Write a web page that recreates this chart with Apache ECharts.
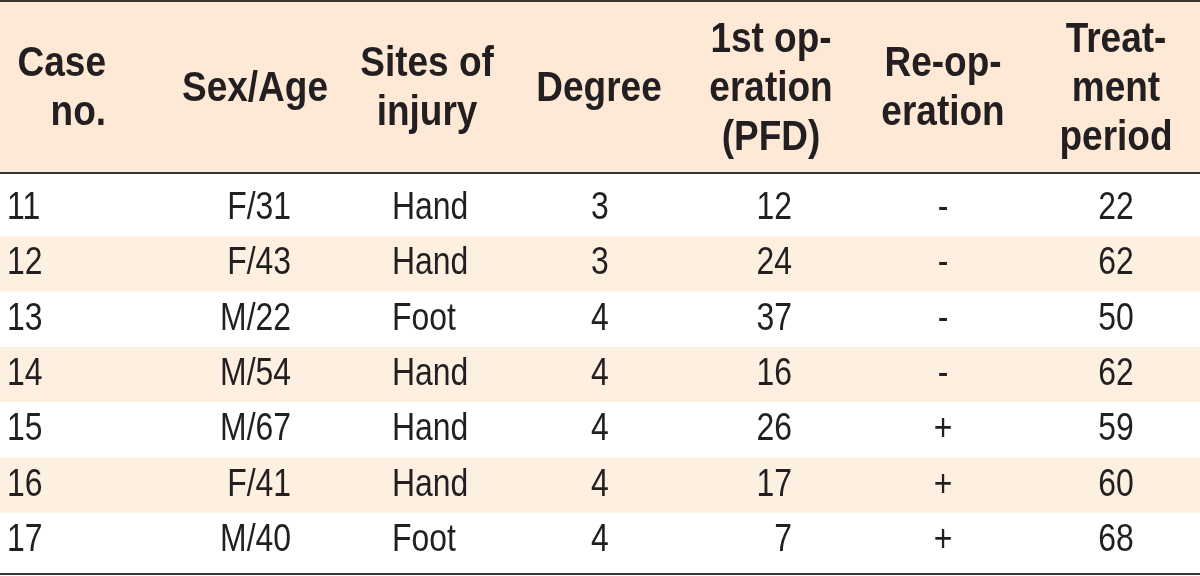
<!DOCTYPE html>
<html>
<head>
<meta charset="utf-8">
<script src="https://cdn.jsdelivr.net/npm/echarts@6/dist/echarts.min.js"></script>
<style>
  html, body { margin: 0; padding: 0; background: #fff; }
  #main { width: 1200px; height: 576px; }
</style>
</head>
<body>
<div id="main"></div>
<script>
// ---- data ----
const headers = ['Case\nno.', 'Sex/Age', 'Sites of\ninjury', 'Degree', '1st op-\neration\n(PFD)', 'Re-op-\neration', 'Treat-\nment\nperiod'];
const caseNo = ['11', '12', '13', '14', '15', '16', '17'];
const sexAge = ['F/31', 'F/43', 'M/22', 'M/54', 'M/67', 'F/41', 'M/40'];
const sites = ['Hand', 'Hand', 'Foot', 'Hand', 'Hand', 'Hand', 'Foot'];
const degree = [3, 3, 4, 4, 4, 4, 4];
const firstOp = [12, 24, 37, 16, 26, 17, 7];
const reOp = ['-', '-', '-', '-', '+', '+', '+'];
const period = [22, 62, 50, 62, 59, 60, 68];

// ---- layout / style ----
const cols = [
  { x: 7,    align: 'left',   hx: 106,  halign: 'right'  },
  { x: 291,  align: 'right',  hx: 255,  halign: 'center' },
  { x: 392,  align: 'left',   hx: 427,  halign: 'center' },
  { x: 600,  align: 'center', hx: 599,  halign: 'center' },
  { x: 792,  align: 'right',  hx: 771,  halign: 'center' },
  { x: 943,  align: 'center', hx: 943,  halign: 'center' },
  { x: 1116, align: 'center', hx: 1116, halign: 'center' }
];
const FONT = "'Liberation Sans', Arial, sans-serif";
const HEAD_SCALE = 0.86;
const CELL_SCALE = 0.84;
const textColor = '#231f20';
const lineColor = '#3a3330';
const headBg = '#fde9d5';
const rowShade = '#fef0e1';

const chart = echarts.init(document.getElementById('main'), null, { renderer: 'canvas' });

const graphics = [
  { type: 'rect', shape: { x: 0, y: 0, width: 1200, height: 173 }, style: { fill: headBg }, z: 0 },
  { type: 'rect', shape: { x: 0, y: 0, width: 1200, height: 2 }, style: { fill: lineColor }, z: 5 },
  { type: 'rect', shape: { x: 0, y: 172, width: 1200, height: 2 }, style: { fill: lineColor }, z: 5 },
  { type: 'rect', shape: { x: 0, y: 573, width: 1200, height: 2 }, style: { fill: lineColor }, z: 5 }
];
headers.forEach((h, j) => {
  graphics.push({
    type: 'text', x: cols[j].hx, y: 89, z: 6, scaleX: HEAD_SCALE,
    style: {
      text: h, fill: textColor, fontFamily: FONT, fontWeight: 'bold', fontSize: 43,
      lineHeight: 49, align: cols[j].halign, verticalAlign: 'middle'
    }
  });
});

const option = {
  animation: false,
  backgroundColor: '#ffffff',
  grid: { left: 0, right: 0, top: 181, bottom: 8 },
  xAxis: { type: 'value', min: 0, max: 1200, show: false },
  yAxis: { type: 'category', data: caseNo, inverse: true, show: false },
  graphic: graphics,
  series: [{
    type: 'custom',
    coordinateSystem: 'cartesian2d',
    data: caseNo.map((c, i) => [0, i]),
    encode: { x: 0, y: 1 },
    renderItem: function (params, api) {
      const i = api.value(1);
      const y = api.coord([0, i])[1];
      const h = api.size([0, 1])[1];
      const cells = [caseNo[i], sexAge[i], sites[i], String(degree[i]), String(firstOp[i]), reOp[i], String(period[i])];
      const children = [];
      if (i % 2 === 1) {
        const left = api.coord([0, i])[0];
        const right = api.coord([1200, i])[0];
        children.push({ type: 'rect', shape: { x: left, y: y - h / 2, width: right - left, height: h }, style: { fill: rowShade } });
      }
      cols.forEach((c, j) => {
        children.push({
          type: 'text',
          x: api.coord([c.x, i])[0], y: y, scaleX: CELL_SCALE,
          style: {
            text: cells[j], fill: textColor, fontFamily: FONT, fontSize: 38,
            align: c.align, verticalAlign: 'middle'
          }
        });
      });
      return { type: 'group', children: children };
    }
  }]
};
chart.setOption(option);
</script>
</body>
</html>
